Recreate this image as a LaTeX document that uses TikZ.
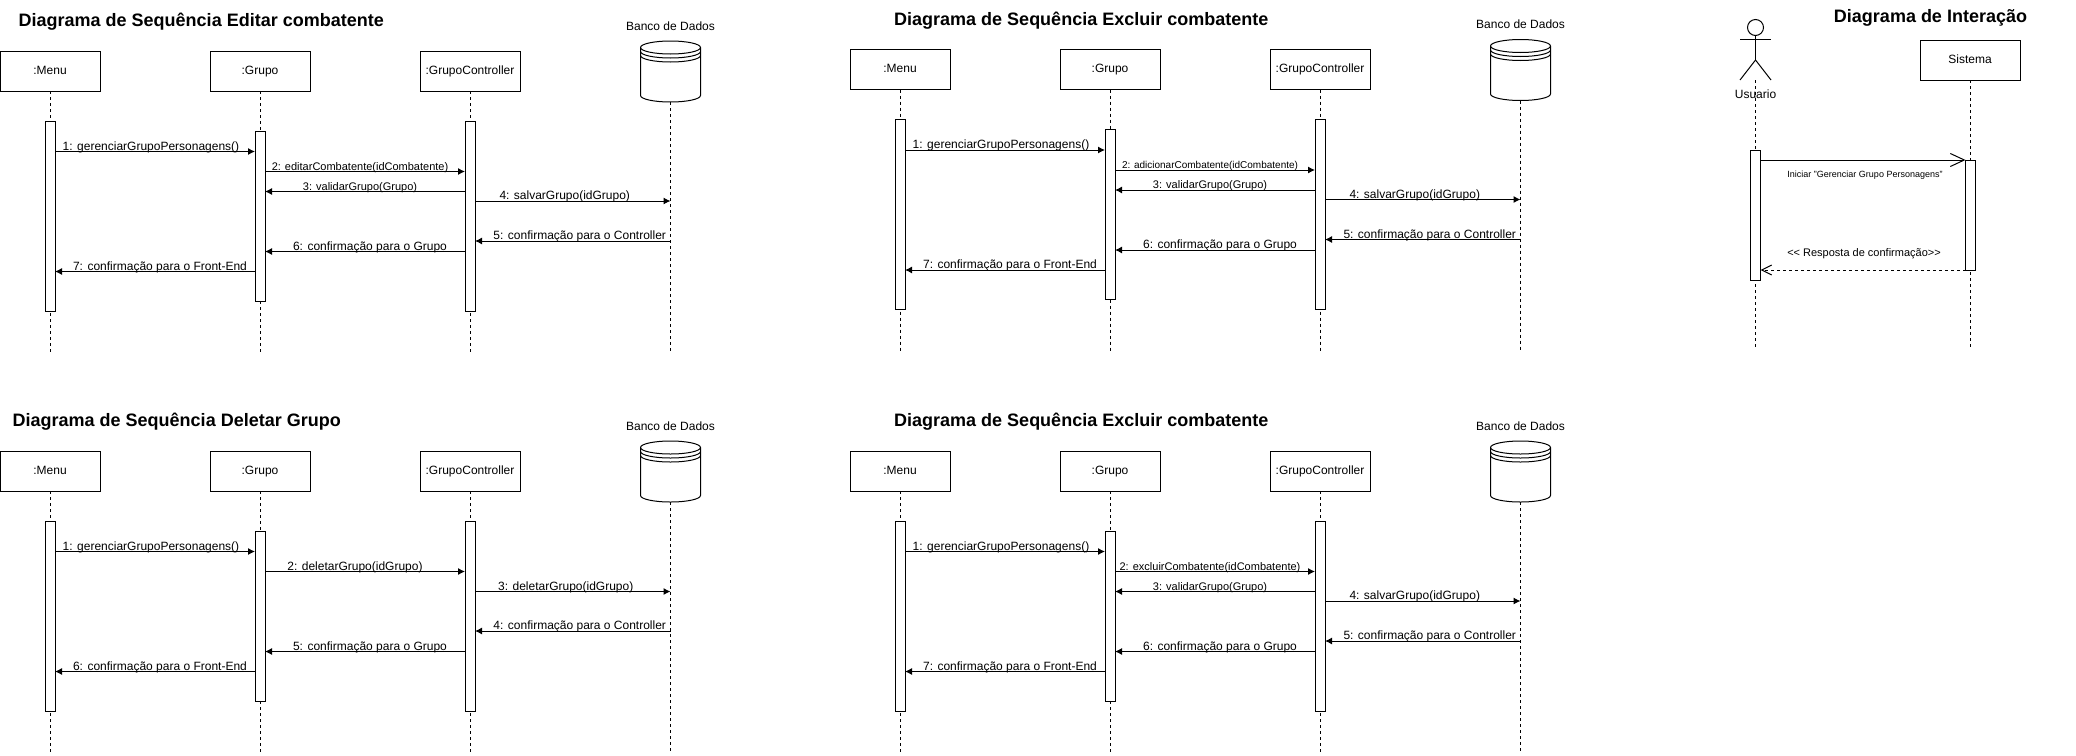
\documentclass[tikz,border=0pt]{standalone}
\usepackage{fontspec}
\setmainfont{Liberation Sans}
\usetikzlibrary{arrows.meta}

\tikzset{
	caixa/.style = {draw, fill = white, line width = 1pt, minimum width = 100pt, minimum height = 40pt, inner sep = 0pt, outer sep = 0pt, text height = 9pt, text depth = 2.5pt, font = \fontsize{12}{14}\selectfont},
	barra/.style = {draw, fill = white, line width = 1pt, minimum width = 10pt, inner sep = 0pt, outer sep = 0pt},
	vazio/.style = {minimum width = 60pt, minimum height = 61pt, inner sep = 0pt, outer sep = 0pt},
	vida/.style = {line width = 1pt, dash pattern = on 3pt off 3pt},
	msg/.style = {line width = 1pt, -{Latex[length = 7pt, width = 7pt]}},
	rotulo/.style = {midway, anchor = base, yshift = 1.5pt, inner sep = 0pt, font = \fontsize{12}{14}\selectfont},
	rotulop/.style = {rotulo, font = \fontsize{11}{13}\selectfont},
	texto/.style = {inner sep = 0pt, font = \fontsize{12}{14}\selectfont},
	titulo/.style = {inner sep = 0pt, anchor = west, font = \fontsize{18}{22}\selectfont\bfseries}
}

% Banco de dados: nome, posicao
\newcommand{\bancoDados}[2]{
	\node [vazio] (#1) at (#2) {};
	\draw [line width = 1pt, fill = white] (#1.north west) ++ (0, 6.5) arc [start angle = 180, end angle = 0, x radius = 30pt, y radius = 6.5pt] -- ++ (0, 48) arc [start angle = 360, end angle = 180, x radius = 30pt, y radius = 6.5pt] -- cycle;
	\draw [line width = 1pt] (#1.north west) ++ (0, 6.5) arc [start angle = 180, end angle = 360, x radius = 30pt, y radius = 6.5pt];
	\draw [line width = 1pt] (#1.north west) ++ (0, 10.5) arc [start angle = 180, end angle = 360, x radius = 30pt, y radius = 6.5pt];
	\draw [line width = 1pt] (#1.north west) ++ (0, 14.5) arc [start angle = 180, end angle = 360, x radius = 30pt, y radius = 6.5pt];
}

\begin{document}
\begin{tikzpicture}[> = latex, x = 1pt, y = -1pt]
\useasboundingbox (0, 0) rectangle (2076, 755);

% Editar combatente

\begin{scope}
	\node [titulo] (tituloA) at (18.5, 22) {Diagrama de Sequência Editar combatente};

	% Boxes

	\node [caixa] (menuA) at (50, 71) {:Menu};
	\node [caixa] (grupoA) at (260, 71) {:Grupo};
	\node [caixa] (controllerA) at (470, 71) {:GrupoController};
	\bancoDados{bancoA}{670.5, 71.5}
	\node [texto] (nomeBancoA) at (670.5, 26) {Banco de Dados};

	% Lifelines

	\draw [vida] (menuA) -- (menuA |- 0, 352);
	\draw [vida] (grupoA) -- (grupoA |- 0, 352);
	\draw [vida] (controllerA) -- (controllerA |- 0, 352);
	\draw [vida] (bancoA) -- (bancoA |- 0, 352);

	% Bars

	\node [barra, minimum height = 190pt] (barMenuA) at (50, 216) {};
	\node [barra, minimum height = 170pt] (barGrupoA) at (260, 216) {};
	\node [barra, minimum height = 190pt] (barControllerA) at (470, 216) {};

	% Messages

	\draw [msg] (barMenuA.east |- 0, 151.5) -- (barGrupoA.west |- 0, 151.5) node [rotulo, xshift = -4pt] {1: gerenciarGrupoPersonagens()};
	\draw [msg] (barGrupoA.east |- 0, 171.5) -- (barControllerA.west |- 0, 171.5) node [rotulop, xshift = -5pt] {2: editarCombatente(idCombatente)};
	\draw [msg] (barControllerA.west |- 0, 191.5) -- (barGrupoA.east |- 0, 191.5) node [rotulop, xshift = -5pt] {3: validarGrupo(Grupo)};
	\draw [msg] (barControllerA.east |- 0, 201) -- (bancoA |- 0, 201) node [rotulo, xshift = -8pt] {4: salvarGrupo(idGrupo)};
	\draw [msg] (bancoA |- 0, 241) -- (barControllerA.east |- 0, 241) node [rotulo, xshift = 7pt] {5: confirmação para o Controller};
	\draw [msg] (barControllerA.west |- 0, 251.5) -- (barGrupoA.east |- 0, 251.5) node [rotulo, xshift = 5pt] {6: confirmação para o Grupo};
	\draw [msg] (barGrupoA.west |- 0, 271.5) -- (barMenuA.east |- 0, 271.5) node [rotulo, xshift = 5pt] {7: confirmação para o Front-End};
\end{scope}

% Excluir combatente, primeiro

\begin{scope}[shift = {(850, -1.5)}]
	\node [titulo] (tituloB) at (44, 22.5) {Diagrama de Sequência Excluir combatente};

	% Boxes

	\node [caixa] (menuB) at (50, 71) {:Menu};
	\node [caixa] (grupoB) at (260, 71) {:Grupo};
	\node [caixa] (controllerB) at (470, 71) {:GrupoController};
	\bancoDados{bancoB}{670.5, 71.5}
	\node [texto] (nomeBancoB) at (670.5, 26) {Banco de Dados};

	% Lifelines

	\draw [vida] (menuB) -- (menuB |- 0, 352);
	\draw [vida] (grupoB) -- (grupoB |- 0, 352);
	\draw [vida] (controllerB) -- (controllerB |- 0, 352);
	\draw [vida] (bancoB) -- (bancoB |- 0, 352);

	% Bars

	\node [barra, minimum height = 190pt] (barMenuB) at (50, 216) {};
	\node [barra, minimum height = 170pt] (barGrupoB) at (260, 216) {};
	\node [barra, minimum height = 190pt] (barControllerB) at (470, 216) {};

	% Messages

	\draw [msg] (barMenuB.east |- 0, 151.5) -- (barGrupoB.west |- 0, 151.5) node [rotulo, xshift = -4pt] {1: gerenciarGrupoPersonagens()};
	\draw [msg] (barGrupoB.east |- 0, 171.5) -- (barControllerB.west |- 0, 171.5) node [rotulo, xshift = -5pt, font = \fontsize{10}{12}\selectfont] {2: adicionarCombatente(idCombatente)};
	\draw [msg] (barControllerB.west |- 0, 191.5) -- (barGrupoB.east |- 0, 191.5) node [rotulop, xshift = -5pt] {3: validarGrupo(Grupo)};
	\draw [msg] (barControllerB.east |- 0, 201) -- (bancoB |- 0, 201) node [rotulo, xshift = -8pt] {4: salvarGrupo(idGrupo)};
	\draw [msg] (bancoB |- 0, 241) -- (barControllerB.east |- 0, 241) node [rotulo, xshift = 7pt] {5: confirmação para o Controller};
	\draw [msg] (barControllerB.west |- 0, 251.5) -- (barGrupoB.east |- 0, 251.5) node [rotulo, xshift = 5pt] {6: confirmação para o Grupo};
	\draw [msg] (barGrupoB.west |- 0, 271.5) -- (barMenuB.east |- 0, 271.5) node [rotulo, xshift = 5pt] {7: confirmação para o Front-End};
\end{scope}

% Deletar grupo

\begin{scope}[shift = {(0, 400)}]
	\node [titulo] (tituloC) at (12.5, 22) {Diagrama de Sequência Deletar Grupo};

	% Boxes

	\node [caixa] (menuC) at (50, 71) {:Menu};
	\node [caixa] (grupoC) at (260, 71) {:Grupo};
	\node [caixa] (controllerC) at (470, 71) {:GrupoController};
	\bancoDados{bancoC}{670.5, 71.5}
	\node [texto] (nomeBancoC) at (670.5, 26) {Banco de Dados};

	% Lifelines

	\draw [vida] (menuC) -- (menuC |- 0, 352);
	\draw [vida] (grupoC) -- (grupoC |- 0, 352);
	\draw [vida] (controllerC) -- (controllerC |- 0, 352);
	\draw [vida] (bancoC) -- (bancoC |- 0, 352);

	% Bars

	\node [barra, minimum height = 190pt] (barMenuC) at (50, 216) {};
	\node [barra, minimum height = 170pt] (barGrupoC) at (260, 216) {};
	\node [barra, minimum height = 190pt] (barControllerC) at (470, 216) {};

	% Messages

	\draw [msg] (barMenuC.east |- 0, 151.5) -- (barGrupoC.west |- 0, 151.5) node [rotulo, xshift = -4pt] {1: gerenciarGrupoPersonagens()};
	\draw [msg] (barGrupoC.east |- 0, 171.5) -- (barControllerC.west |- 0, 171.5) node [rotulo, xshift = -10pt] {2: deletarGrupo(idGrupo)};
	\draw [msg] (barControllerC.east |- 0, 191.5) -- (bancoC |- 0, 191.5) node [rotulo, xshift = -7pt] {3: deletarGrupo(idGrupo)};
	\draw [msg] (bancoC |- 0, 231) -- (barControllerC.east |- 0, 231) node [rotulo, xshift = 7pt] {4: confirmação para o Controller};
	\draw [msg] (barControllerC.west |- 0, 251.5) -- (barGrupoC.east |- 0, 251.5) node [rotulo, xshift = 5pt] {5: confirmação para o Grupo};
	\draw [msg] (barGrupoC.west |- 0, 271.5) -- (barMenuC.east |- 0, 271.5) node [rotulo, xshift = 5pt] {6: confirmação para o Front-End};
\end{scope}

% Excluir combatente, segundo

\begin{scope}[shift = {(850, 400)}]
	\node [titulo] (tituloD) at (44, 22) {Diagrama de Sequência Excluir combatente};

	% Boxes

	\node [caixa] (menuD) at (50, 71) {:Menu};
	\node [caixa] (grupoD) at (260, 71) {:Grupo};
	\node [caixa] (controllerD) at (470, 71) {:GrupoController};
	\bancoDados{bancoD}{670.5, 71.5}
	\node [texto] (nomeBancoD) at (670.5, 26) {Banco de Dados};

	% Lifelines

	\draw [vida] (menuD) -- (menuD |- 0, 352);
	\draw [vida] (grupoD) -- (grupoD |- 0, 352);
	\draw [vida] (controllerD) -- (controllerD |- 0, 352);
	\draw [vida] (bancoD) -- (bancoD |- 0, 352);

	% Bars

	\node [barra, minimum height = 190pt] (barMenuD) at (50, 216) {};
	\node [barra, minimum height = 170pt] (barGrupoD) at (260, 216) {};
	\node [barra, minimum height = 190pt] (barControllerD) at (470, 216) {};

	% Messages

	\draw [msg] (barMenuD.east |- 0, 151.5) -- (barGrupoD.west |- 0, 151.5) node [rotulo, xshift = -4pt] {1: gerenciarGrupoPersonagens()};
	\draw [msg] (barGrupoD.east |- 0, 171.5) -- (barControllerD.west |- 0, 171.5) node [rotulop, xshift = -5pt] {2: excluirCombatente(idCombatente)};
	\draw [msg] (barControllerD.west |- 0, 191.5) -- (barGrupoD.east |- 0, 191.5) node [rotulop, xshift = -5pt] {3: validarGrupo(Grupo)};
	\draw [msg] (barControllerD.east |- 0, 201) -- (bancoD |- 0, 201) node [rotulo, xshift = -8pt] {4: salvarGrupo(idGrupo)};
	\draw [msg] (bancoD |- 0, 241) -- (barControllerD.east |- 0, 241) node [rotulo, xshift = 7pt] {5: confirmação para o Controller};
	\draw [msg] (barControllerD.west |- 0, 251.5) -- (barGrupoD.east |- 0, 251.5) node [rotulo, xshift = 5pt] {6: confirmação para o Grupo};
	\draw [msg] (barGrupoD.west |- 0, 271.5) -- (barMenuD.east |- 0, 271.5) node [rotulo, xshift = 5pt] {7: confirmação para o Front-End};
\end{scope}

% Interacao

\node [titulo, anchor = center] (tituloE) at (1930.5, 17.5) {Diagrama de Interação};

% Actor

\node [draw, circle, line width = 1pt, minimum size = 16pt, inner sep = 0pt, outer sep = 0pt] (cabeca) at (1755.5, 27.5) {};
\coordinate (cintura) at (1755.5, 60);
\draw [line width = 1pt] (cabeca) -- (cintura);
\draw [line width = 1pt] (1740, 39.5) -- (1771, 39.5);
\draw [line width = 1pt] (1740, 80) -- (cintura) -- (1771, 80);
\node [texto] (usuario) at (1755.5, 94) {Usuario};

% Box

\node [caixa] (sistema) at (1970, 60) {Sistema};

% Lifelines

\draw [vida] (cintura |- 0, 80) -- (cintura |- 0, 347);
\draw [vida] (sistema) -- (sistema |- 0, 347);

% Bars

\node [barra, minimum height = 130pt] (barUsuario) at (1755.5, 215) {};
\node [barra, minimum height = 110pt] (barSistema) at (1970.5, 215) {};

% Messages

\draw [line width = 1pt, -{Straight Barb[length = 14pt, width = 13pt]}] (barUsuario.east |- 0, 160) -- (barSistema.west |- 0, 160);
\node [inner sep = 0pt, font = \fontsize{9}{11}\selectfont] (iniciar) at (1865, 175) {Iniciar "Gerenciar Grupo Personagens"};
\draw [line width = 1pt, dash pattern = on 3pt off 3pt, -{Straight Barb[length = 10pt, width = 10pt]}] (barSistema.west |- 0, 270) -- (barUsuario.east |- 0, 270);
\node [inner sep = 0pt, font = \fontsize{11}{13}\selectfont] (resposta) at (1864, 254) {<{}< Resposta de confirmação>{}>};

\end{tikzpicture}
\end{document}
